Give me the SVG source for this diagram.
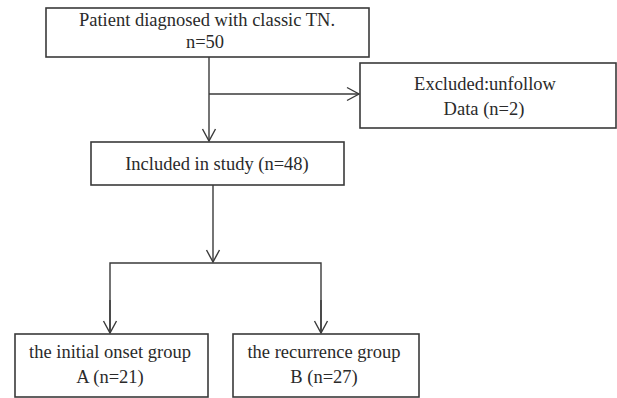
<svg xmlns="http://www.w3.org/2000/svg" width="617" height="398" viewBox="0 0 617 398">
<style>
.box{fill:#fff;stroke:#3a3a3a;stroke-width:1.6}
.t{font-family:"Liberation Serif","Times New Roman",serif;font-size:18.5px;fill:#2a2a2a;text-anchor:middle}
.ln{fill:none;stroke:#3a3a3a;stroke-width:1.4}
</style>
<defs>
<marker id="arr" markerUnits="userSpaceOnUse" markerWidth="16" markerHeight="16" viewBox="-14 -8 16 16" refX="0" refY="0" orient="auto">
<path d="M-12,-6.5 L0,0 L-12,6.5" fill="none" stroke="#3a3a3a" stroke-width="1.4"/>
</marker>
</defs>
<rect width="617" height="398" fill="#fff"/>
<g id="connectors">
<line class="ln" x1="209" y1="57" x2="209" y2="141" marker-end="url(#arr)"/>
<line class="ln" x1="209" y1="94" x2="359" y2="94" marker-end="url(#arr)"/>
<line class="ln" x1="213" y1="185" x2="213" y2="262" marker-end="url(#arr)"/>
<polyline class="ln" points="110,333 110,263 321,263 321,333"/>
<line class="ln" x1="110" y1="300" x2="110" y2="333" marker-end="url(#arr)"/>
<line class="ln" x1="321" y1="300" x2="321" y2="333" marker-end="url(#arr)"/>
</g>
<g id="node-patient">
<rect class="box" x="46" y="8" width="323" height="49"/>
<text class="t" x="207" y="26">Patient diagnosed with classic TN.</text>
<text class="t" x="205" y="48">n=50</text>
</g>
<g id="node-excluded">
<rect class="box" x="360" y="63" width="256" height="65"/>
<text class="t" x="485" y="90">Excluded:unfollow</text>
<text class="t" x="484" y="115">Data (n=2)</text>
</g>
<g id="node-included">
<rect class="box" x="91" y="142" width="253" height="43"/>
<text class="t" x="217" y="170">Included in study (n=48)</text>
</g>
<g id="node-groupA">
<rect class="box" x="15" y="334" width="193" height="63"/>
<text class="t" x="110" y="358">the initial onset group</text>
<text class="t" x="110" y="383">A (n=21)</text>
</g>
<g id="node-groupB">
<rect class="box" x="233" y="334" width="186" height="63"/>
<text class="t" x="324" y="358">the recurrence group</text>
<text class="t" x="324" y="383">B (n=27)</text>
</g>
</svg>
